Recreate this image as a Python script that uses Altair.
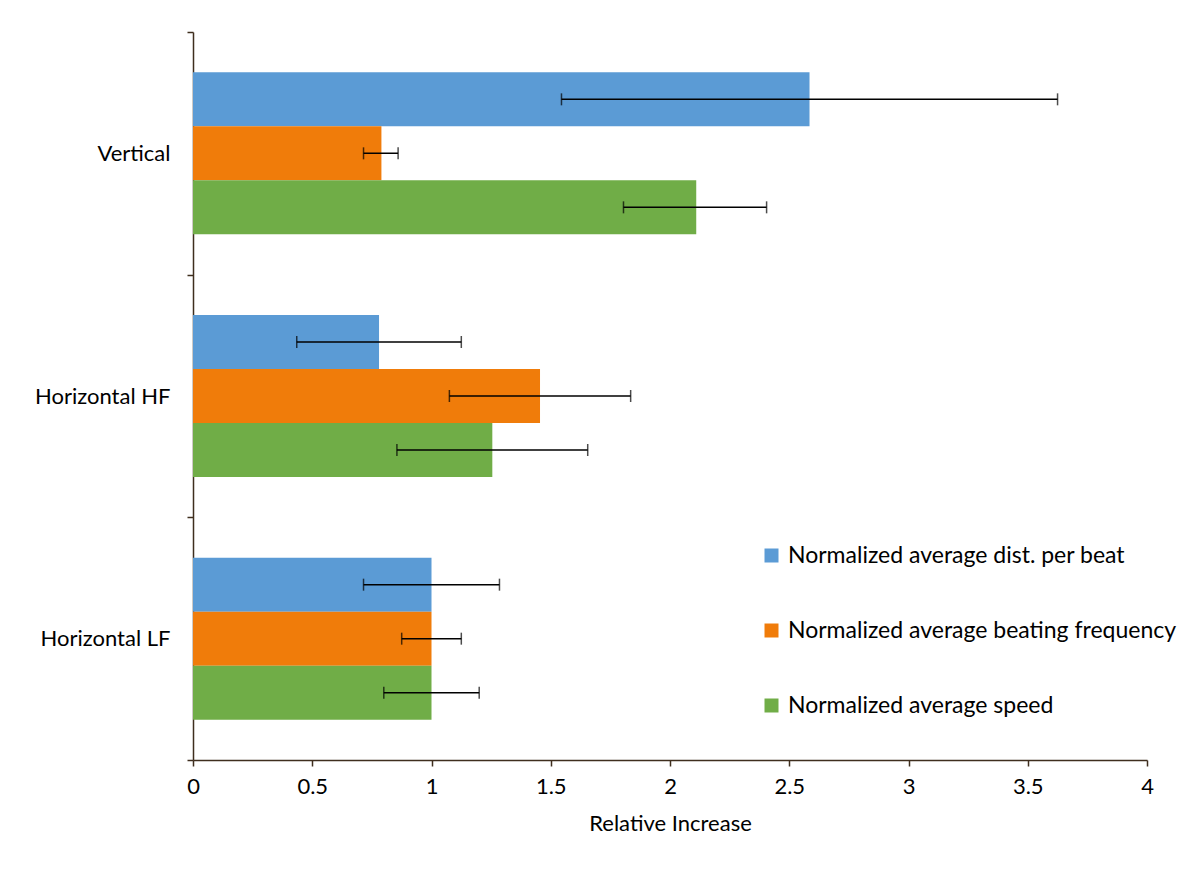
import altair as alt
import pandas as pd

categories = ["Vertical", "Horizontal HF", "Horizontal LF"]
series = [
    "Normalized average dist. per beat",
    "Normalized average beating frequency",
    "Normalized average speed",
]
colors = ["#5B9BD5", "#F07C0A", "#70AD47"]

dist_vals = [2.585, 0.78, 1.0]
dist_lo = [1.545, 0.435, 0.715]
dist_hi = [3.625, 1.125, 1.285]

freq_vals = [0.79, 1.455, 1.0]
freq_lo = [0.715, 1.075, 0.875]
freq_hi = [0.86, 1.835, 1.125]

speed_vals = [2.11, 1.255, 1.0]
speed_lo = [1.805, 0.855, 0.80]
speed_hi = [2.405, 1.655, 1.20]

x_ticks = [0, 0.5, 1, 1.5, 2, 2.5, 3, 3.5, 4]

rows = []
for s, vals, lo, hi in [
    (series[0], dist_vals, dist_lo, dist_hi),
    (series[1], freq_vals, freq_lo, freq_hi),
    (series[2], speed_vals, speed_lo, speed_hi),
]:
    for c, v, l, h in zip(categories, vals, lo, hi):
        rows.append({"category": c, "series": s, "value": v, "lo": l, "hi": h})
df = pd.DataFrame(rows)

FONT = "Lato"
NARROW = "Liberation Sans Narrow, Lato"
AXC = "#3F2E1E"

y_enc = alt.Y(
    "category:N",
    sort=categories,
    scale=alt.Scale(paddingInner=0, paddingOuter=0),
    axis=alt.Axis(
        title=None,
        tickBand="extent",
        domainColor=AXC,
        tickColor=AXC,
        tickSize=6,
        labelFontSize=22,
        labelFont=FONT,
        labelColor="black",
        labelPadding=17,
    ),
)
yoff = alt.YOffset(
    "series:N", sort=series, scale=alt.Scale(paddingInner=0, paddingOuter=0.747)
)

base = alt.Chart(df)

bars = base.mark_bar().encode(
    x=alt.X(
        "value:Q",
        scale=alt.Scale(domain=[0, 4], nice=False),
        axis=alt.Axis(
            title="Relative Increase",
            values=x_ticks,
            format="~g",
            grid=False,
            labelFlush=False,
            domainColor=AXC,
            tickColor=AXC,
            tickSize=6,
            labelFontSize=22,
            labelFont=NARROW,
            labelColor="black",
            labelPadding=10,
            titleFontSize=22,
            titleFont=NARROW,
            titleFontWeight="normal",
            titleColor="black",
            titlePadding=16,
        ),
    ),
    y=y_enc,
    yOffset=yoff,
    color=alt.Color(
        "series:N",
        sort=series,
        scale=alt.Scale(domain=series, range=colors),
        legend=alt.Legend(
            title=None,
            orient="none",
            legendX=567,
            legendY=512,
            symbolType="square",
            symbolSize=196,
            symbolStrokeWidth=0,
            labelFontSize=23,
            labelFont=FONT,
            labelColor="black",
            labelLimit=600,
            rowPadding=51,
            labelOffset=5,
        ),
    ),
)

err = base.mark_rule(color="black", strokeWidth=1.5).encode(
    x="lo:Q", x2="hi:Q", y=y_enc, yOffset=yoff
)
cap_lo = base.mark_tick(color="black", thickness=1.5, size=12).encode(
    x="lo:Q", y=y_enc, yOffset=yoff
)
cap_hi = base.mark_tick(color="black", thickness=1.5, size=12).encode(
    x="hi:Q", y=y_enc, yOffset=yoff
)

chart = (
    alt.layer(bars, err, cap_lo, cap_hi)
    .properties(
        width=954,
        height=728,
        autosize=alt.AutoSizeParams(type="none"),
        padding={"left": 185, "top": 24, "right": 45, "bottom": 100},
    )
    .configure_view(stroke=None)
    .configure_axis(domainWidth=1.5, tickWidth=1.5)
)

chart.save("out.html", embed_options={"renderer": "svg", "actions": False})
